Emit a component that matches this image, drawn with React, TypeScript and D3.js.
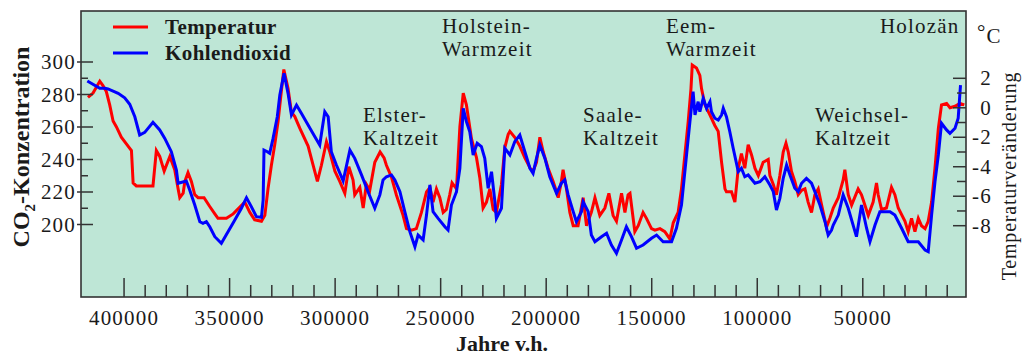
import React, { useEffect, useRef } from 'react';
import * as d3 from 'd3';

// Temperaturveränderung (°C), Jahre vor heute
const tempYears = [
  417100, 414700, 411500, 410000, 408400, 406800, 405200, 403600, 401300, 398100,
  396500, 395700, 394200, 386300, 384700, 383100, 381000, 378300, 376000, 374400,
  373600, 372000, 371200, 369700, 368100, 366500, 364900, 362100, 359400, 357000,
  355500, 351500, 348300, 342800, 340400, 338100, 334900, 333300, 331800, 330200,
  328600, 327000, 325500, 324300, 322300, 320700, 319100, 316700, 312800, 310400,
  308400, 306500, 304100, 302500, 300100, 297800, 295400, 293500, 291500, 290700,
  288300, 286700, 285200, 283600, 281200, 278700, 276800, 275700, 273300, 271000,
  267800, 266200, 263800, 261500, 259100, 256700, 255100, 253600, 252000, 250400,
  248800, 247300, 245700, 244600, 242500, 240900, 239300, 237800, 235400, 233000,
  231400, 229900, 228300, 226700, 225100, 223600, 221200, 219600, 218000, 217200,
  214900, 212500, 210100, 207600, 206200, 204600, 203000, 201400, 199100, 196700,
  195100, 194300, 192800, 192000, 190400, 188800, 187200, 184900, 182500, 180900,
  178600, 176900, 174600, 172200, 170300, 168300, 166700, 164300, 162700, 161200,
  160300, 158000, 156400, 154100, 152500, 150100, 148500, 146100, 143800, 141400,
  139800, 137500, 135900, 134300, 132700, 131400, 130800, 128800, 127200, 126400,
  124800, 122400, 120100, 118500, 116900, 115300, 114600, 112200, 110600, 109000,
  107500, 105900, 104300, 102700, 101100, 99500, 97200, 94800, 94000, 92400,
  90900, 89300, 87700, 86400, 85300, 83800, 82200, 80600, 79000, 77400,
  75900, 74300, 72700, 71100, 69500, 67200, 65600, 64000, 61600, 59300,
  58500, 56900, 55300, 52200, 50600, 47400, 45100, 43500, 42700, 41100,
  38800, 36400, 34800, 33200, 30000, 28500, 26900, 25300, 23700, 22200,
  20500, 19000, 17400, 15800, 14200, 12700, 10300, 8700, 6300, 4000,
  1900,
];
const tempValues = [
  0.7, 1.0, 1.8, 1.5, 1.1, 0.2, -0.9, -1.3, -2.0, -2.6,
  -2.9, -5.1, -5.3, -5.3, -2.9, -3.3, -4.3, -3.3, -4.2, -5.5,
  -6.1, -5.8, -5.0, -4.4, -5.0, -5.9, -6.1, -6.1, -6.7, -7.2,
  -7.5, -7.5, -7.2, -6.4, -7.1, -7.6, -7.7, -7.3, -5.5, -3.9,
  -2.5, -0.9, 1.1, 2.6, 1.3, -0.3, -0.6, -1.4, -2.6, -3.9,
  -5.0, -3.9, -2.3, -3.0, -4.3, -5.0, -5.8, -4.0, -4.9, -5.9,
  -5.4, -6.8, -5.2, -5.6, -3.7, -3.0, -3.4, -3.9, -4.7, -5.9,
  -7.3, -8.2, -8.3, -8.2, -7.1, -5.7, -5.4, -6.4, -5.5, -6.1,
  -7.1, -6.9, -5.9, -5.1, -5.5, -1.3, 1.0, 0.2, -2.1, -3.4,
  -4.8, -6.8, -6.4, -5.5, -6.9, -7.1, -5.2, -2.7, -1.8, -1.6,
  -2.0, -2.6, -3.4, -4.1, -4.3, -3.7, -2.0, -3.0, -4.1, -5.0,
  -5.7, -6.1, -5.0, -4.2, -5.5, -7.1, -8.0, -8.0, -6.1, -8.0,
  -7.1, -6.1, -7.3, -6.8, -5.8, -7.3, -7.7, -5.8, -7.1, -5.9,
  -5.8, -8.4, -8.0, -7.1, -7.5, -8.2, -8.3, -8.2, -8.4, -8.9,
  -7.8, -7.1, -5.5, -3.2, -0.9, 1.3, 2.9, 2.7, 2.2, 1.3,
  0.2, -0.5, -1.2, -1.6, -3.7, -5.5, -5.7, -5.7, -6.4, -4.1,
  -3.1, -4.1, -2.5, -3.2, -4.1, -4.6, -3.7, -3.5, -4.6, -5.2,
  -5.9, -4.6, -3.0, -2.4, -3.0, -4.3, -5.0, -5.9, -5.6, -5.5,
  -6.4, -7.1, -5.9, -5.5, -6.6, -8.1, -7.5, -6.8, -6.1, -4.9,
  -4.2, -5.9, -6.6, -5.5, -5.9, -7.3, -6.4, -5.1, -5.9, -6.9,
  -6.8, -5.4, -5.9, -6.8, -7.7, -8.4, -7.5, -8.4, -7.5, -8.0,
  -8.2, -7.7, -6.4, -4.1, -1.4, 0.2, 0.3, 0.0, 0.1, 0.3,
  0.2,
];

// CO2-Konzentration (ppm), Jahre vor heute
const co2Years = [
  417400, 411500, 409100, 407600, 402800, 399700, 397300, 394900, 392600, 390200,
  386300, 383100, 380700, 377600, 375200, 374400, 370500, 368900, 366500, 364100,
  362600, 361000, 359400, 357000, 353900, 348000, 344400, 342000, 339700, 337300,
  334900, 334100, 333700, 332100, 331000, 329400, 327400, 326200, 324200, 322300,
  320700, 318300, 316000, 312800, 309600, 307300, 304900, 303300, 301800, 299400,
  296200, 293000, 290700, 287500, 284400, 281200, 278800, 277300, 275700, 273300,
  271700, 269300, 267000, 264600, 262200, 260700, 258300, 256700, 255100, 253600,
  251200, 248000, 246500, 244900, 242500, 240900, 239300, 237800, 236200, 234600,
  232700, 230700, 229100, 227500, 225900, 224300, 223600, 221200, 219600, 217200,
  214900, 212500, 210100, 207700, 206200, 204600, 203000, 200600, 198300, 195100,
  192800, 191200, 189600, 187200, 185700, 183300, 182500, 180100, 178600, 176900,
  173800, 171400, 169100, 166700, 164300, 162000, 159600, 157200, 154100, 150100,
  147700, 144600, 140600, 138300, 135900, 133500, 131900, 130400, 129500, 128000,
  127200, 125600, 124000, 122400, 121700, 120100, 118500, 116900, 116100, 114600,
  113000, 111400, 109000, 107500, 105900, 104300, 101100, 98700, 96400, 94000,
  92400, 90900, 89300, 87700, 86100, 84500, 82200, 80600, 79000, 76700,
  74300, 72700, 70300, 67900, 66400, 64800, 64000, 61600, 59300, 56900,
  53000, 50600, 48200, 46600, 44200, 41900, 37100, 34800, 31600, 28500,
  23700, 20500, 19000, 17400, 15800, 14200, 12700, 10300, 8700, 6300,
  4800, 3700,
];
const co2Values = [
  288.3, 283.8, 283.8, 283.4, 280.7, 278.0, 274.0, 266.3, 255.1, 256.7,
  262.9, 258.2, 253.0, 244.8, 233.5, 225.4, 226.8, 221.2, 212.0, 201.7,
  200.7, 201.7, 198.6, 192.5, 188.4, 201.7, 210.0, 216.5, 211.0, 204.8,
  204.4, 215.1, 245.8, 244.8, 243.8, 253.0, 266.3, 279.7, 293.0, 280.7,
  267.4, 273.5, 268.4, 261.2, 254.0, 248.9, 269.4, 266.3, 244.8, 236.6,
  226.8, 245.8, 240.7, 230.5, 220.2, 210.0, 218.2, 227.4, 229.4, 230.5,
  227.4, 220.2, 207.9, 195.6, 186.3, 193.5, 190.5, 205.8, 224.3, 207.9,
  203.8, 198.6, 196.6, 212.0, 220.2, 234.6, 271.5, 263.3, 257.1, 242.8,
  250.0, 247.9, 240.7, 222.3, 232.5, 214.0, 203.8, 210.0, 246.9, 242.8,
  251.0, 255.1, 244.8, 234.6, 231.5, 240.7, 248.9, 240.7, 229.4, 219.2,
  225.4, 227.4, 218.2, 207.9, 201.7, 207.9, 214.0, 207.9, 193.5, 189.4,
  192.5, 194.6, 187.4, 182.3, 190.5, 198.6, 192.5, 185.4, 187.4, 191.5,
  193.5, 189.4, 189.4, 197.7, 212.0, 242.8, 263.3, 281.7, 267.4, 275.6,
  269.4, 277.7, 271.5, 275.6, 269.4, 265.4, 264.3, 267.4, 271.5, 266.3,
  257.1, 246.9, 232.5, 234.6, 229.4, 230.5, 225.4, 226.3, 229.4, 224.3,
  220.2, 208.9, 216.1, 228.4, 236.6, 230.5, 222.3, 220.2, 225.4, 228.4,
  225.4, 220.2, 212.0, 201.7, 193.5, 196.6, 199.7, 205.8, 218.2, 210.0,
  192.5, 212.0, 197.7, 189.4, 199.7, 207.9, 207.9, 205.8, 197.7, 189.4,
  189.4, 184.3, 183.3, 205.8, 226.3, 242.8, 262.3, 258.2, 256.1, 259.2,
  265.4, 285.8,
];

const yearTicks = [400000, 350000, 300000, 250000, 200000, 150000, 100000, 50000];
const co2Ticks = [200, 220, 240, 260, 280, 300];
const tempTicks = [-8, -6, -4, -2, 0, 2];
const legendNames = ['Temperatur', 'Kohlendioxid'];
const periodNames = [
  ['Elster-', 'Kaltzeit'],
  ['Holstein-', 'Warmzeit'],
  ['Saale-', 'Kaltzeit'],
  ['Eem-', 'Warmzeit'],
  ['Weichsel-', 'Kaltzeit'],
  ['Holozän'],
];

export default function App() {
  const ref = useRef<SVGSVGElement | null>(null);

  useEffect(() => {
    const el = ref.current;
    if (!el) return;
    const svg = d3.select(el);
    svg.selectAll('*').remove();

    const left = 81, right = 966, top = 11, bottom = 297;
    const times = 'Liberation Serif, Times New Roman, serif';
    const ink = '#1a1a1a';

    const x = d3.scaleLinear().domain([420400, 1100]).range([left, right]);
    const yCo2 = d3.scaleLinear().domain([200, 300]).range([224.5, 62]);
    const yTemp = d3.scaleLinear().domain([-8, 2]).range([225.7, 78.3]);

    svg.append('rect').attr('width', 1023).attr('height', 357).attr('fill', '#ffffff');
    svg.append('rect')
      .attr('x', left).attr('y', top)
      .attr('width', right - left).attr('height', bottom - top)
      .attr('fill', '#bee6d6');

    // Kurven
    const tempLine = d3.line<number>()
      .x((d, i) => x(tempYears[i]))
      .y((d) => yTemp(d));
    const co2Line = d3.line<number>()
      .x((d, i) => x(co2Years[i]))
      .y((d) => yCo2(d));

    svg.append('path').attr('d', tempLine(tempValues) as string)
      .attr('fill', 'none').attr('stroke', '#ff0000').attr('stroke-width', 3);
    svg.append('path').attr('d', co2Line(co2Values) as string)
      .attr('fill', 'none').attr('stroke', '#0000ff').attr('stroke-width', 3);

    // Rahmen
    svg.append('rect')
      .attr('x', left).attr('y', top)
      .attr('width', right - left).attr('height', bottom - top)
      .attr('fill', 'none').attr('stroke', '#333').attr('stroke-width', 1.6);

    const label = (sel: any) =>
      sel.style('font-family', times).style('font-size', '21px')
        .style('letter-spacing', '1.2px').attr('fill', ink);

    // x-Achse
    const minorYears = d3.range(10000, 400001, 10000);
    svg.append('g').selectAll('line').data(minorYears).join('line')
      .attr('x1', (d) => x(d)).attr('x2', (d) => x(d))
      .attr('y1', bottom)
      .attr('y2', (d) => (d % 50000 === 0 ? bottom - 19 : bottom - 12))
      .attr('stroke', '#333').attr('stroke-width', 1.5);
    svg.append('g').selectAll('text').data(yearTicks).join('text')
      .attr('x', (d) => x(d)).attr('y', 325)
      .attr('text-anchor', 'middle')
      .call(label)
      .text((d) => String(d));

    // linke Achse (CO2)
    const co2Minor = d3.range(200, 301, 10);
    svg.append('g').selectAll('line').data(co2Minor).join('line')
      .attr('x1', (d) => (d % 20 === 0 ? left - 4 : left))
      .attr('x2', (d) => (d % 20 === 0 ? left + 12 : left + 7))
      .attr('y1', (d) => yCo2(d)).attr('y2', (d) => yCo2(d))
      .attr('stroke', '#333').attr('stroke-width', 1.5);
    svg.append('g').selectAll('text').data(co2Ticks).join('text')
      .attr('x', 76).attr('y', (d) => yCo2(d))
      .attr('dy', '0.34em').attr('text-anchor', 'end')
      .call(label)
      .text((d) => String(d));

    // rechte Achse (Temperatur)
    const tempMinor = d3.range(-8, 3, 1);
    svg.append('g').selectAll('line').data(tempMinor).join('line')
      .attr('x1', (d) => (d % 2 === 0 ? right - 13 : right - 9))
      .attr('x2', right)
      .attr('y1', (d) => yTemp(d)).attr('y2', (d) => yTemp(d))
      .attr('stroke', '#333').attr('stroke-width', 1.5);
    svg.append('g').selectAll('text').data(tempTicks).join('text')
      .attr('x', 992).attr('y', (d) => yTemp(d))
      .attr('dy', '0.34em').attr('text-anchor', 'end')
      .call(label)
      .text((d) => (d < 0 ? '-' + Math.abs(d) : String(d)));

    const deg = svg.append('text').attr('x', 977).attr('y', 43).call(label);
    deg.append('tspan').attr('dy', -4).text('°');
    deg.append('tspan').attr('dy', 4).text('C');

    // Achsentitel
    const co2Title = svg.append('text')
      .attr('transform', 'translate(29,147) rotate(-90)')
      .attr('text-anchor', 'middle')
      .style('font-family', times).style('font-size', '24px').style('font-weight', 'bold')
      .attr('fill', ink);
    co2Title.append('tspan').text('CO');
    co2Title.append('tspan').attr('dy', 6).style('font-size', '15px').text('2');
    co2Title.append('tspan').attr('dy', -6).text('-Konzentration');

    svg.append('text')
      .attr('transform', 'translate(1016,176) rotate(-90)')
      .attr('text-anchor', 'middle')
      .style('font-family', times).style('font-size', '20px')
      .style('letter-spacing', '0.8px').attr('fill', ink)
      .text('Temperaturveränderung');

    svg.append('text').attr('x', 502).attr('y', 351)
      .attr('text-anchor', 'middle')
      .style('font-family', times).style('font-size', '22px').style('font-weight', 'bold')
      .attr('fill', ink)
      .text('Jahre v.h.');

    // Legende
    const legendColors = ['#ff0000', '#0000ff'];
    const legendY = [27, 53];
    legendNames.forEach((name, i) => {
      svg.append('line')
        .attr('x1', 113).attr('x2', 148)
        .attr('y1', legendY[i]).attr('y2', legendY[i])
        .attr('stroke', legendColors[i]).attr('stroke-width', 3);
      svg.append('text').attr('x', 165).attr('y', legendY[i]).attr('dy', '0.33em')
        .style('font-family', times).style('font-size', '21px').style('font-weight', 'bold')
        .style('letter-spacing', '0.4px')
        .attr('fill', ink)
        .text(name);
    });

    // Zeitabschnitte
    const periodPos = [
      [363, 122], [442, 33], [583, 122], [666, 33], [815, 122], [880, 33],
    ];
    periodNames.forEach((lines, i) => {
      lines.forEach((line, j) => {
        svg.append('text')
          .attr('x', periodPos[i][0]).attr('y', periodPos[i][1] + j * 23)
          .call(label)
          .text(line);
      });
    });

    return () => {
      svg.selectAll('*').remove();
    };
  }, []);

  return (
    <svg
      ref={ref}
      width={1023}
      height={357}
      style={{ position: 'absolute', left: 0, top: 0, display: 'block' }}
    />
  );
}
